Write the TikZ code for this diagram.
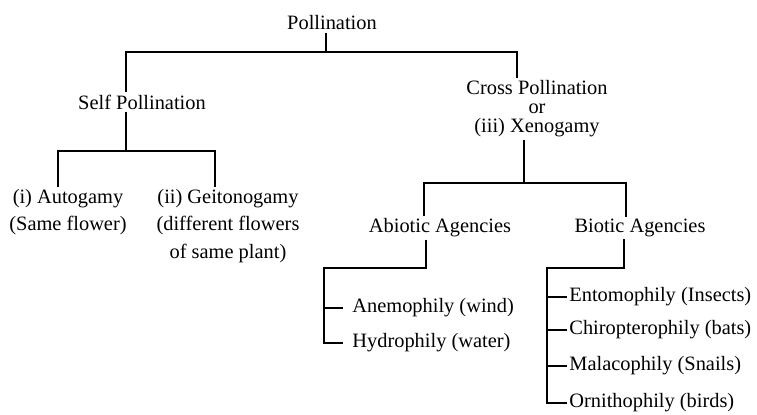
\documentclass[tikz,border=0pt]{standalone}
\usepackage{fontspec}
\setmainfont{Liberation Serif}

\begin{document}
\begin{tikzpicture}[x=0.5pt, y=-0.5pt,
  term/.style={font=\fontsize{10.2}{13.8}\selectfont, inner sep=1pt, align=center},
  leaf/.style={font=\fontsize{10.2}{12}\selectfont, inner ysep=1pt, inner xsep=1pt, anchor=west},
  branch/.style={line width=1.1pt}]

  % Page frame (757 x 414)
  \useasboundingbox (0,0) rectangle (757,414);

  % Top level
  \node[term] (pol) at (332,23) {Pollination};
  \node[term] (self) at (142,102) {Self Pollination};
  \node[term, font=\fontsize{10.2}{9.5}\selectfont] (cross) at (537,109) {Cross Pollination\\or\\(iii) Xenogamy};

  \coordinate (jpol) at (326,52);
  \coordinate (jself) at (126,52);
  \coordinate (jcross) at (517,52);
  \draw[branch] (jpol |- pol.south) -- (jpol);
  \draw[branch] (jself |- self.north) -- (jself) -- (jcross) -- (jcross |- cross.north);

  % Self pollination
  \node[term] (auto) at (68,212) {(i) Autogamy\\(Same flower)};
  \node[term] (geit) at (228,226) {(ii) Geitonogamy\\(different flowers\\of same plant)};

  \coordinate (jselfdn) at (126,151);
  \coordinate (jauto) at (58,151);
  \coordinate (jgeit) at (215,151);
  \draw[branch] (jselfdn |- self.south) -- (jselfdn);
  \draw[branch] (jauto |- auto.north) -- (jauto) -- (jgeit) -- (jgeit |- geit.north);

  % Cross pollination
  \node[term] (abio) at (440,228) {Abiotic Agencies};
  \node[term] (bio) at (640,228) {Biotic Agencies};

  \coordinate (jcrossdn) at (524,183);
  \coordinate (jabio) at (424,183);
  \coordinate (jbio) at (626,183);
  \draw[branch] (jcrossdn |- cross.south) -- (jcrossdn);
  \draw[branch] (jabio |- abio.north) -- (jabio) -- (jbio) -- (jbio |- bio.north);

  % Abiotic agencies
  \node[leaf, inner xsep=4.5pt] (ane) at (343,308) {Anemophily (wind)};
  \node[leaf, inner xsep=4.5pt] (hyd) at (343,343) {Hydrophily (water)};

  \coordinate (jabiodn) at (426,268);
  \coordinate (jane) at (324,268);
  \draw[branch] (jabiodn |- abio.south) -- (jabiodn) -- (jane) |- (hyd.west);
  \draw[branch] (jane |- ane.west) -- (ane.west);

  % Biotic agencies
  \node[leaf] (ento) at (567,297) {Entomophily (Insects)};
  \node[leaf] (chir) at (567,330) {Chiropterophily (bats)};
  \node[leaf] (mala) at (567,366) {Malacophily (Snails)};
  \node[leaf] (orni) at (567,403) {Ornithophily (birds)};

  \coordinate (jbiodn) at (624,268);
  \coordinate (jento) at (547,268);
  \draw[branch] (jbiodn |- bio.south) -- (jbiodn) -- (jento) |- (orni.west);
  \foreach \n in {ento,chir,mala}
    \draw[branch] (jento |- \n.west) -- (\n.west);
\end{tikzpicture}
\end{document}
